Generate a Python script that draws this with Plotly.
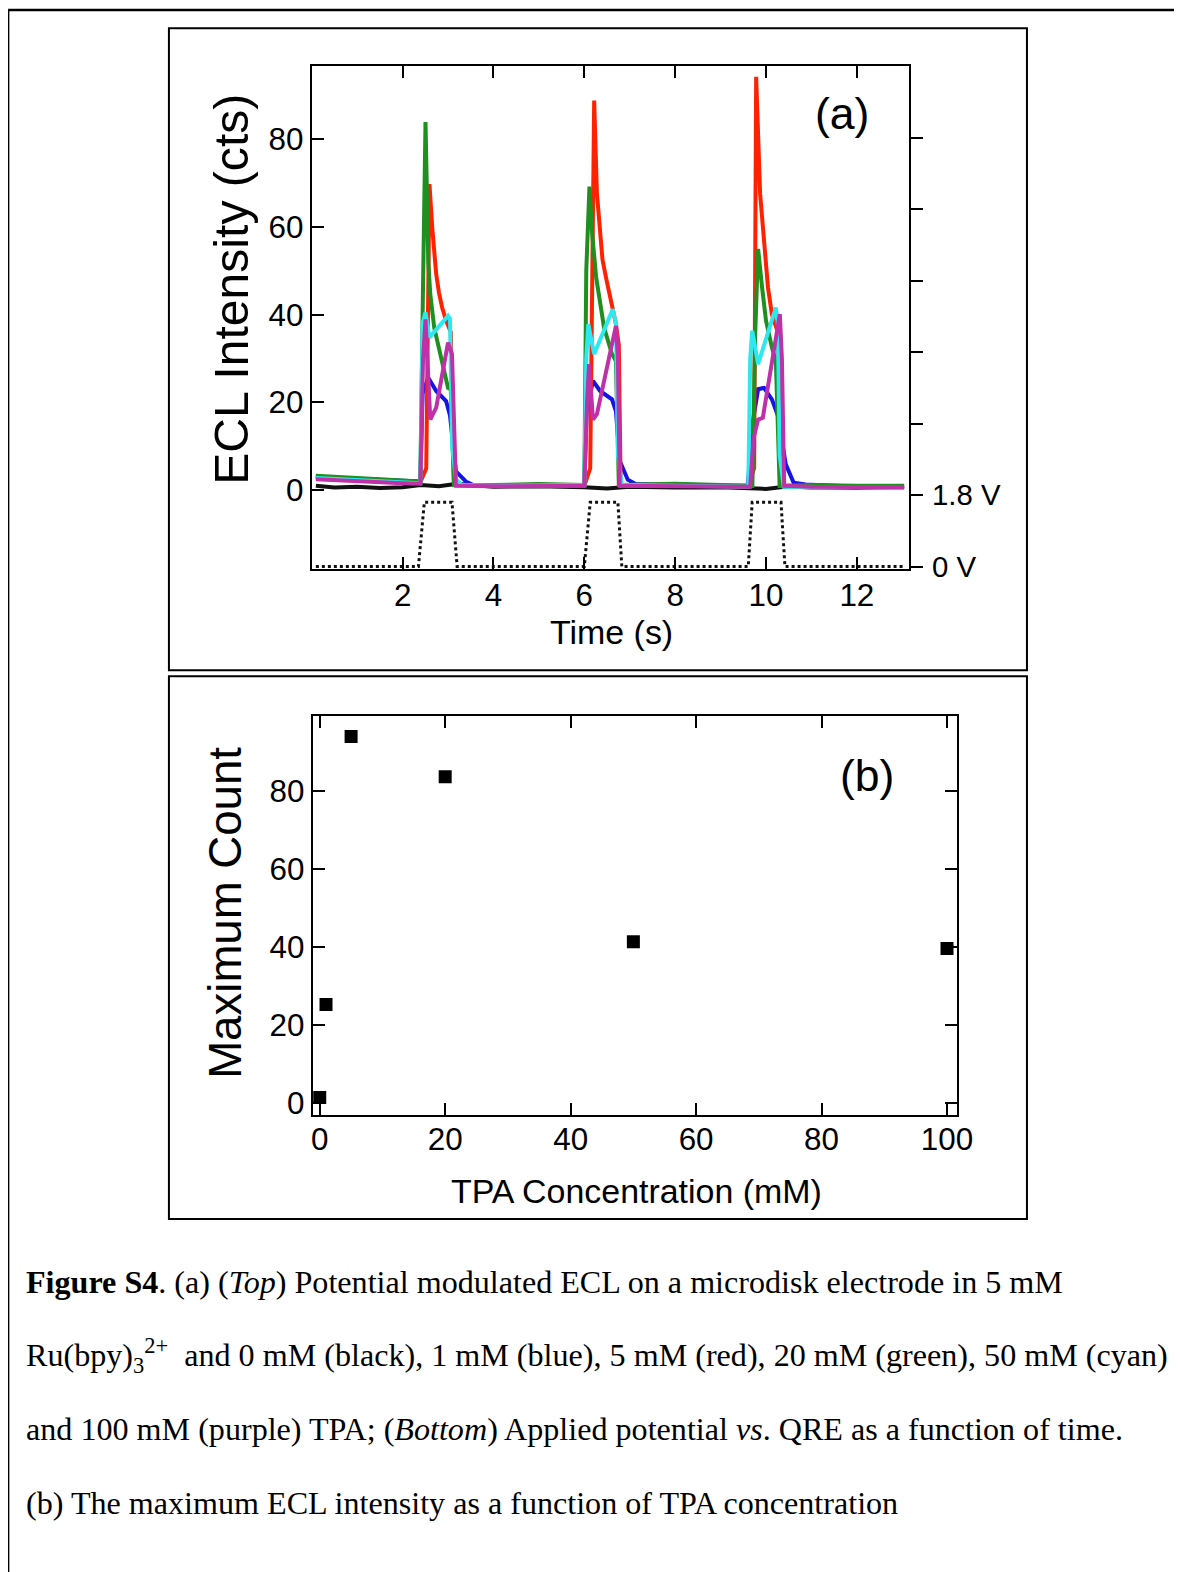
import plotly.graph_objects as go

# ---- page geometry -------------------------------------------------------
# The captured picture shows the page slightly reduced (about 0.986 across and
# 0.988 down) and the body keeps an 8px margin; layout positions below are
# given in picture pixels and converted to figure pixels.
SX, SY = 0.986, 0.988
OFF = 8
FS = 1 / 0.987  # font scale
W = int(round(1182 / SX - OFF))
H = int(round(1572 / SY - OFF))

# ---------------- Panel (a): ECL intensity vs time ----------------
t_black = [0.09, 0.5, 1.0, 1.5, 2.0, 2.4, 2.8, 3.2, 4.0, 5.0, 6.0, 6.5, 7.0, 8.0, 9.0, 9.6, 10.0, 10.5, 11.0, 12.0, 13.04]
i_black = [1.0, 0.6, 0.8, 0.5, 0.7, 1.2, 0.9, 1.5, 0.8, 0.9, 0.7, 0.4, 0.8, 0.6, 0.7, 0.5, 0.3, 0.9, 0.6, 0.5, 0.7]

t_blue = [0.09, 1.0, 2.0, 2.39, 2.44, 2.565, 2.739, 2.957, 3.043, 3.174, 3.391, 3.565, 4.5, 5.5, 6.0,
          6.05, 6.191, 6.348, 6.609, 6.696, 6.783, 6.957, 7.13, 8.5, 9.6, 9.70, 9.826, 9.957, 10.13,
          10.26, 10.435, 10.609, 10.87, 12.0, 13.04]
i_blue = [3.0, 2.6, 2.2, 2.0, 22.0, 25.6, 22.6, 20.3, 17.0, 4.3, 2.0, 1.1, 1.0, 1.0, 1.1,
          18.0, 24.9, 22.6, 20.7, 18.0, 6.6, 2.4, 1.4, 1.0, 1.0, 15.0, 23.0, 23.3, 20.7,
          17.0, 5.9, 1.7, 1.3, 0.8, 0.8]

t_red = [0.09, 1.0, 2.0, 2.39, 2.52, 2.591, 2.652, 2.70, 2.739, 2.80, 2.87, 2.957, 3.06, 3.13, 4.0, 5.0, 6.0,
         6.13, 6.217, 6.278, 6.348, 6.40, 6.478, 6.55, 6.609, 6.696, 6.76, 6.80, 8.0, 9.0, 9.6, 9.739, 9.783,
         9.870, 9.957, 10.0, 10.043, 10.13, 10.26, 10.33, 11.0, 12.0, 13.04]
i_red = [3.0, 2.5, 2.0, 1.8, 5.0, 69.7, 59.8, 53.5, 49.2, 45.0, 41.6, 38.6, 36.0, 1.2, 1.0, 1.2, 1.0,
         5.0, 88.7, 67.5, 57.6, 52.5, 48.4, 44.5, 41.6, 37.8, 33.0, 1.0, 1.2, 0.9, 0.8, 5.0, 94.1,
         67.5, 56.0, 50.5, 46.2, 40.0, 36.0, 1.0, 0.6, 0.8, 0.7]

t_green = [0.09, 1.0, 2.0, 2.39, 2.44, 2.504, 2.565, 2.609, 2.696, 2.87, 3.0, 3.06, 3.13, 4.0, 5.0, 6.0,
           6.043, 6.113, 6.174, 6.261, 6.435, 6.609, 6.696, 6.76, 8.0, 9.0, 9.70, 9.76, 9.826,
           9.913, 10.0, 10.13, 10.217, 10.30, 11.0, 12.0, 13.04]
i_green = [3.3, 2.8, 2.2, 2.0, 40.0, 83.8, 52.0, 44.6, 37.0, 29.4, 23.3, 23.0, 1.2, 1.2, 1.4, 1.2,
           50.0, 69.1, 58.3, 48.4, 37.0, 31.0, 29.4, 1.2, 1.5, 1.2, 1.0, 35.0, 54.9,
           46.2, 38.6, 32.5, 29.4, 1.0, 1.2, 1.0, 1.0]

t_cyan = [0.09, 1.0, 2.0, 2.39, 2.44, 2.504, 2.591, 3.0, 3.043, 3.09, 3.174, 3.3, 4.0, 5.0, 6.0,
          6.043, 6.087, 6.217, 6.626, 6.696, 6.74, 6.826, 8.0, 9.0, 9.61, 9.652, 9.696, 9.826,
          10.217, 10.26, 10.30, 10.39, 11.0, 12.0, 13.04]
i_cyan = [2.8, 2.3, 1.8, 1.6, 38.0, 40.5, 34.8, 39.7, 39.0, 10.0, 2.5, 1.2, 1.0, 1.2, 1.2,
          30.0, 37.8, 31.0, 41.2, 38.0, 8.0, 1.2, 1.0, 0.9, 0.8, 30.0, 36.3, 28.7,
          41.6, 38.0, 8.0, 0.8, 0.6, 0.6, 0.5]

t_purple = [0.09, 1.0, 2.0, 2.39, 2.45, 2.504, 2.609, 2.739, 3.0, 3.087, 3.13, 3.174, 4.0, 5.0, 6.0,
            6.06, 6.104, 6.191, 6.278, 6.696, 6.74, 6.78, 8.0, 9.0, 9.65, 9.73, 9.826, 9.93,
            10.304, 10.35, 10.40, 11.0, 12.0, 13.04]
i_purple = [2.5, 2.0, 1.6, 1.5, 30.0, 38.9, 16.1, 18.8, 33.6, 31.0, 15.0, 1.0, 0.9, 1.0, 1.0,
            20.0, 28.7, 16.1, 17.3, 37.4, 30.0, 1.0, 1.0, 0.9, 0.8, 12.0, 16.1, 16.5,
            40.1, 30.0, 1.0, 0.8, 0.7, 0.7]

# Applied potential (V) vs time
pot_t = [0.09, 2.348, 2.478, 3.087, 3.2, 6.0, 6.13, 6.739, 6.826, 9.609, 9.696, 10.33, 10.417, 13.04]
pot_v = [0, 0, 1.62, 1.62, 0, 0, 1.62, 1.62, 0, 0, 1.62, 1.62, 0, 0]

series = [
    ("0 mM", t_black, i_black, "#111111", 4),
    ("1 mM", t_blue, i_blue, "#1414e6", 4),
    ("5 mM", t_red, i_red, "#ff2200", 4),
    ("20 mM", t_green, i_green, "#1f8f1f", 4),
    ("50 mM", t_cyan, i_cyan, "#2ee8f0", 4),
    ("100 mM", t_purple, i_purple, "#c030a8", 4),
]

# ---------------- Panel (b): Maximum count vs TPA ----------------
tpa_conc = [0, 1, 5, 20, 50, 100]
max_count = [1.4, 25.3, 94.1, 83.8, 41.4, 39.7]

a_xticks = [2, 4, 6, 8, 10, 12]
a_yticks = [0, 20, 40, 60, 80]
pot_ticks = [0, 1.8, 3.6, 5.4, 7.2, 9.0, 10.8]
pot_ticktext = ["0 V", "1.8 V", " ", " ", " ", " ", " "]
b_xticks = [0, 20, 40, 60, 80, 100]
b_yticks = [0, 20, 40, 60, 80]


def px(x):
    """picture pixel x -> paper fraction"""
    return (x / SX - OFF) / W


def py(y):
    """picture pixel y (from top) -> paper fraction"""
    return 1 - (y / SY - OFF) / H


def f(s):
    return s * FS


SANS = "Liberation Sans, Arial, sans-serif"
SERIF = "Liberation Serif, Times New Roman, serif"

fig = go.Figure()
for name, t, v, col, lw in series:
    fig.add_trace(go.Scatter(x=t, y=v, mode="lines", name=name,
                             line=dict(color=col, width=lw), xaxis="x", yaxis="y"))
fig.add_trace(go.Scatter(x=pot_t, y=pot_v, mode="lines", name="Potential",
                         line=dict(color="#111111", width=3, dash="dot"), xaxis="x", yaxis="y2"))
fig.add_trace(go.Scatter(x=tpa_conc, y=max_count, mode="markers", name="Max",
                         marker=dict(symbol="square", size=13, color="black"),
                         xaxis="x2", yaxis="y3"))

axis_common = dict(showline=True, linecolor="black", linewidth=2, showgrid=False, zeroline=False,
                   ticks="inside", ticklen=12, tickwidth=2, tickcolor="black",
                   tickfont=dict(family=SANS, size=f(31), color="black"))

fig.update_layout(
    width=W, height=H, autosize=False,
    margin=dict(l=0, r=0, t=0, b=0),
    paper_bgcolor="white", plot_bgcolor="white",
    showlegend=False,
    xaxis=dict(domain=[px(310), px(908)], range=[0, 13.15], anchor="y",
               tickvals=a_xticks, mirror="ticks", ticklabelstandoff=-3, **axis_common),
    yaxis=dict(domain=[py(567), py(66)], range=[-17.9, 96.5], anchor="x",
               tickvals=a_yticks, **axis_common),
    yaxis2=dict(overlaying="y", side="right", anchor="x", range=[-0.058, 12.6],
                showline=True, linecolor="black", linewidth=2, showgrid=False, zeroline=False,
                ticks="outside", ticklen=12, tickwidth=2, tickcolor="black",
                tickvals=pot_ticks, ticktext=pot_ticktext, ticklabelstandoff=3,
                tickfont=dict(family=SANS, size=f(29), color="black")),
    xaxis2=dict(domain=[px(311), px(956)], range=[-1.11, 101.6], anchor="y3",
                tickvals=b_xticks, mirror="ticks", ticklabelstandoff=-4, **axis_common),
    yaxis3=dict(domain=[py(1111), py(714)], range=[-3.0, 99.3], anchor="x2",
                tickvals=b_yticks, mirror="ticks", **axis_common),
)

ann = []


def text(x, y, s, size, family=SANS, angle=0, xanchor="center", yanchor="middle"):
    ann.append(dict(x=px(x), y=py(y), xref="paper", yref="paper", text=s, showarrow=False,
                    font=dict(family=family, size=f(size), color="black"), textangle=angle,
                    xanchor=xanchor, yanchor=yanchor))


text(229, 288, "ECL Intensity (cts)", 47.5, angle=-90)
text(610, 630, "Time (s)", 33.5)
text(841, 113, "(a)", 44)
text(224, 910, "Maximum Count", 45, angle=-90)
text(635, 1187, "TPA Concentration (mM)", 33.5)
text(866, 773, "(b)", 44)

text(22, 1277.5, "<b>Figure S4</b>. (a) (<i>Top</i>) Potential modulated ECL on a microdisk electrode in 5 mM",
     31.7, family=SERIF, xanchor="left")
text(22, 1351.5, "Ru(bpy)<sub>3</sub><sup>2+</sup>  and 0 mM (black), 1 mM (blue), 5 mM (red), 20 mM (green), 50 mM (cyan)",
     31.7, family=SERIF, xanchor="left")
text(22, 1424.5, "and 100 mM (purple) TPA; (<i>Bottom</i>) Applied potential <i>vs</i>. QRE as a function of time.",
     31.7, family=SERIF, xanchor="left")
text(22, 1498.5, "(b) The maximum ECL intensity as a function of TPA concentration",
     31.7, family=SERIF, xanchor="left")

fig.update_layout(annotations=ann)

shapes = [
    # page border (open on right and bottom)
    dict(type="line", xref="paper", yref="paper", x0=px(6), x1=px(6), y0=py(10), y1=0,
         line=dict(color="black", width=2.5)),
    dict(type="line", xref="paper", yref="paper", x0=px(6), x1=1, y0=py(10), y1=py(10),
         line=dict(color="black", width=2.5)),
    # panel boxes
    dict(type="rect", xref="paper", yref="paper", x0=px(167), x1=px(1026), y0=py(668), y1=py(28),
         line=dict(color="black", width=2)),
    dict(type="rect", xref="paper", yref="paper", x0=px(167), x1=px(1026), y0=py(1215), y1=py(674),
         line=dict(color="black", width=2)),
]
fig.update_layout(shapes=shapes)

fig.write_html("out.html", config={"displayModeBar": False})
